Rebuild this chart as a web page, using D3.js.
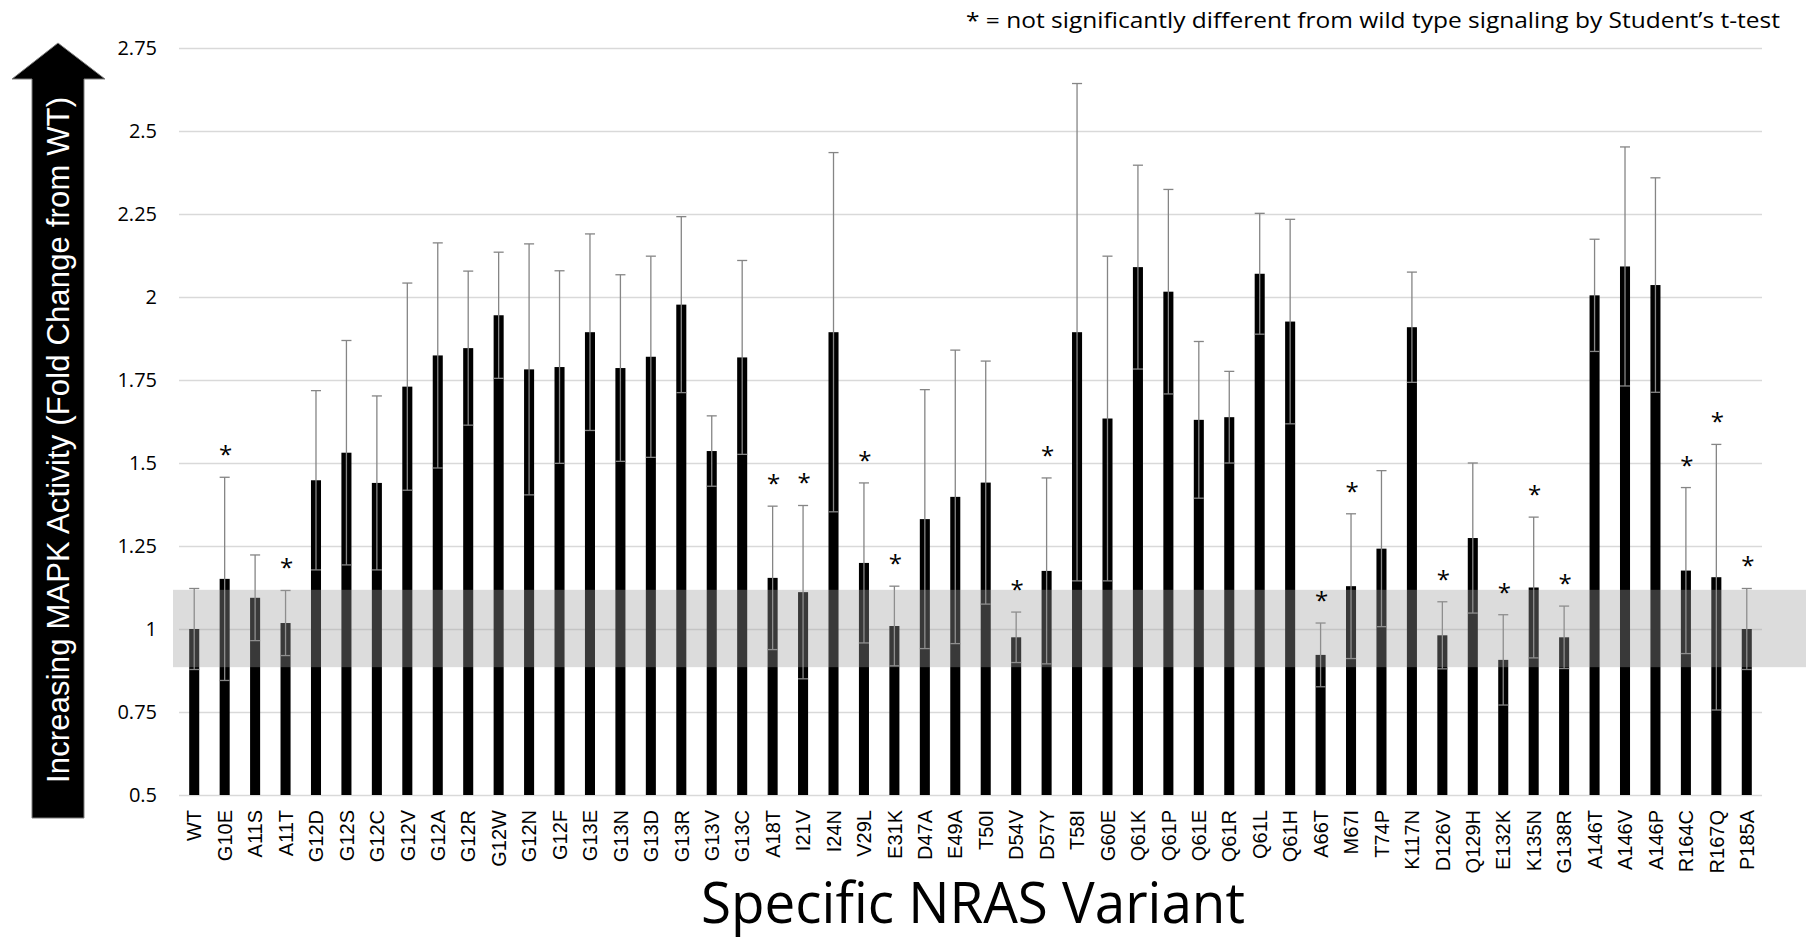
<!DOCTYPE html>
<html><head><meta charset="utf-8">
<script src="https://cdn.jsdelivr.net/npm/d3@7"></script>
<style>
html,body{margin:0;padding:0;background:#fff;}
svg{display:block;}
</style></head>
<body>
<svg id="chart" width="1812" height="942"></svg>
<script>
const categories = ["WT","G10E","A11S","A11T","G12D","G12S","G12C","G12V","G12A","G12R","G12W","G12N","G12F","G13E","G13N","G13D","G13R","G13V","G13C","A18T","I21V","I24N","V29L","E31K","D47A","E49A","T50I","D54V","D57Y","T58I","G60E","Q61K","Q61P","Q61E","Q61R","Q61L","Q61H","A66T","M67I","T74P","K117N","D126V","Q129H","E132K","K135N","G138R","A146T","A146V","A146P","R164C","R167Q","P185A"];
const values = [1.00,1.151,1.094,1.018,1.448,1.531,1.440,1.730,1.824,1.846,1.945,1.782,1.789,1.894,1.786,1.820,1.977,1.536,1.818,1.154,1.111,1.894,1.199,1.009,1.331,1.398,1.441,0.975,1.175,1.894,1.634,2.090,2.016,1.630,1.638,2.070,1.926,0.922,1.129,1.242,1.909,0.981,1.274,0.907,1.125,0.975,2.005,2.092,2.036,1.176,1.156,1.000];
const errors = [0.122,0.306,0.129,0.098,0.270,0.338,0.262,0.312,0.339,0.232,0.190,0.378,0.290,0.296,0.281,0.303,0.265,0.106,0.292,0.216,0.261,0.541,0.241,0.120,0.390,0.442,0.366,0.076,0.280,0.749,0.489,0.307,0.308,0.236,0.138,0.182,0.308,0.096,0.218,0.235,0.166,0.101,0.226,0.136,0.212,0.094,0.169,0.360,0.323,0.250,0.400,0.122];
const notSignificant = ["G10E","A11T","A18T","I21V","V29L","E31K","D54V","D57Y","A66T","M67I","D126V","E132K","K135N","G138R","R164C","R167Q","P185A"];
const yTicks = [0.5,0.75,1,1.25,1.5,1.75,2,2.25,2.5,2.75];
const wtBand = [0.885,1.118];
const yAxisTitle = "Increasing MAPK Activity (Fold Change from WT)";
const xAxisTitle = "Specific NRAS Variant";
const noteText = "* = not significantly different from wild type signaling by Student\u2019s t-test";

const data = categories.map((c,i)=>({cat:c, v:values[i], e:errors[i], ns:notSignificant.includes(c)}));

const svg = d3.select("#chart");
const mLeft = 179, mRight = 1762, mTop = 48, mBottom = 795;

const x = d3.scaleBand().domain(categories).range([mLeft,mRight]).paddingInner(0.67).paddingOuter(0.335);
const y = d3.scaleLinear().domain([0.5,2.75]).range([mBottom,mTop]);

// gridlines
const grid = svg.append("g").attr("transform",`translate(${mLeft},0)`)
  .call(d3.axisLeft(y).tickValues(yTicks).tickSize(-(mRight-mLeft)).tickFormat(""));
grid.select(".domain").remove();
grid.selectAll("line").attr("stroke","#d9d9d9").attr("stroke-width",1.5);

// y tick labels
const ya = svg.append("g").attr("transform",`translate(${mLeft-22},0)`)
  .call(d3.axisLeft(y).tickValues(yTicks).tickSize(0).tickPadding(0).tickFormat(d=>String(d)));
ya.select(".domain").remove();
ya.selectAll("text").attr("font-family","'Open Sans', sans-serif").attr("font-size",20).attr("fill","#000");

// bars
const bw = x.bandwidth();
svg.append("g").selectAll("rect").data(data).join("rect")
  .attr("x",d=>x(d.cat)).attr("width",bw)
  .attr("y",d=>y(d.v)).attr("height",d=>y(0.5)-y(d.v))
  .attr("fill","#000");

// error bars
const eb = svg.append("g").attr("stroke","#858585").attr("stroke-width",1.3).attr("fill","none");
data.forEach(d=>{
  const cx = x(d.cat)+bw/2;
  eb.append("line").attr("x1",cx).attr("x2",cx).attr("y1",y(d.v-d.e)).attr("y2",y(d.v+d.e));
  eb.append("line").attr("x1",cx-bw/2).attr("x2",cx+bw/2).attr("y1",y(d.v+d.e)).attr("y2",y(d.v+d.e));
  eb.append("line").attr("x1",cx-bw/2).attr("x2",cx+bw/2).attr("y1",y(d.v-d.e)).attr("y2",y(d.v-d.e));
});

// WT band
svg.append("rect").attr("x",173).attr("width",1806-173)
  .attr("y",y(wtBand[1])).attr("height",y(wtBand[0])-y(wtBand[1]))
  .attr("fill","rgb(158,158,158)").attr("fill-opacity",0.36);

// asterisks
svg.append("g").selectAll("text").data(data.filter(d=>d.ns)).join("text")
  .attr("x",d=>x(d.cat)+bw/2+1).attr("y",d=>y(d.v+d.e)-14)
  .attr("text-anchor","middle").attr("font-family","'Open Sans', sans-serif").attr("font-size",24)
  .text("*");

// x labels
const xa = svg.append("g").attr("transform",`translate(0,${mBottom})`)
  .call(d3.axisBottom(x).tickSize(0).tickPadding(0));
xa.select(".domain").remove();
xa.selectAll("text")
  .attr("font-family","'Liberation Sans', Arial, sans-serif").attr("font-size",20).attr("fill","#000")
  .attr("text-anchor","end").attr("transform","rotate(-90)")
  .attr("x",-15).attr("y",0).attr("dy","0.36em");

// arrow
const ax = 58;
const arrowPath = d3.path();
arrowPath.moveTo(ax,43); arrowPath.lineTo(105,79); arrowPath.lineTo(84,79); arrowPath.lineTo(84,818);
arrowPath.lineTo(32,818); arrowPath.lineTo(32,79); arrowPath.lineTo(12,79); arrowPath.closePath();
svg.append("path").attr("d",arrowPath.toString()).attr("fill","#000").attr("stroke","#7f7f7f").attr("stroke-width",1);
svg.append("text").attr("transform",`translate(${ax+11},${440}) rotate(-90)`)
  .attr("text-anchor","middle").attr("font-family","'Liberation Sans', Arial, sans-serif").attr("font-size",31)
  .attr("textLength",686).attr("lengthAdjust","spacing")
  .attr("fill","#fff").text(yAxisTitle);

// x title
svg.append("text").attr("x",973).attr("y",923).attr("text-anchor","middle")
  .attr("font-family","'Open Sans', sans-serif").attr("font-size",56)
  .attr("textLength",544).attr("lengthAdjust","spacingAndGlyphs").attr("fill","#000").text(xAxisTitle);

// note
svg.append("text").attr("x",966).attr("y",28)
  .attr("font-family","'Open Sans', sans-serif").attr("font-size",22)
  .attr("textLength",814).attr("lengthAdjust","spacingAndGlyphs").attr("fill","#000").text(noteText);
</script>
</body></html>
